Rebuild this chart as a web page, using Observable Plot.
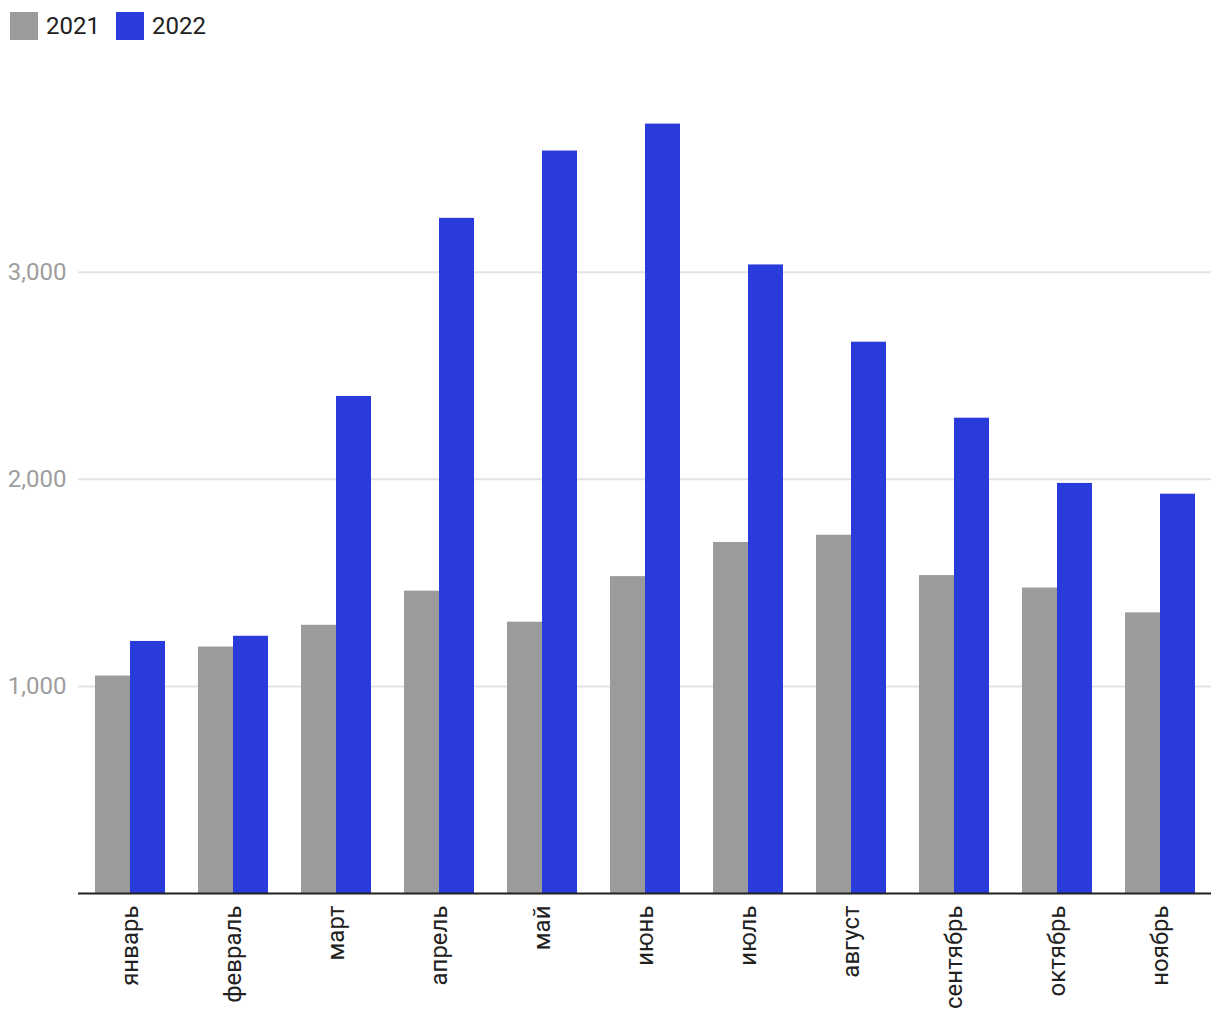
<!DOCTYPE html>
<html>
<head>
<meta charset="utf-8">
<script src="https://cdn.jsdelivr.net/npm/d3@7"></script>
<script src="https://cdn.jsdelivr.net/npm/@observablehq/plot@0.6"></script>
<style>
  body { margin: 0; background: #fff; font-family: Roboto, sans-serif; }
  #legend { height: 50px; display: flex; align-items: flex-start; padding-top: 12px; box-sizing: border-box; padding-left: 10px; }
  .item { display: flex; align-items: center; margin-right: 16px; font-size: 24px; color: #212121; height: 28px; }
  .sw { width: 28px; height: 28px; margin-right: 8px; }
</style>
</head>
<body>
<div id="legend"></div>
<div id="chart"></div>
<script>
const months = ["январь", "февраль", "март", "апрель", "май", "июнь", "июль", "август", "сентябрь", "октябрь", "ноябрь"];
const years = ["2021", "2022"];
const values2021 = [1050, 1190, 1295, 1460, 1310, 1530, 1695, 1730, 1535, 1475, 1355];
const values2022 = [1217, 1242, 2400, 3260, 3585, 3715, 3035, 2662, 2295, 1980, 1928];
const colors = ["#9b9b9b", "#2a3bdb"];
const yTicks = [1000, 2000, 3000];

const data = [];
months.forEach((m, i) => {
  data.push({month: m, year: years[0], value: values2021[i]});
  data.push({month: m, year: years[1], value: values2022[i]});
});

const legend = document.getElementById("legend");
years.forEach((y, i) => {
  const it = document.createElement("div");
  it.className = "item";
  const sw = document.createElement("div");
  sw.className = "sw";
  sw.style.background = colors[i];
  it.appendChild(sw);
  it.appendChild(document.createTextNode(y));
  legend.appendChild(it);
});

const chart = Plot.plot({
  width: 1220,
  height: 970,
  marginLeft: 76,
  marginRight: 7,
  marginTop: 56,
  marginBottom: 127,
  style: {fontFamily: "Roboto, sans-serif", fontSize: "24px", background: "#fff"},
  fx: {domain: months, paddingInner: 0, paddingOuter: 0, label: null, axis: null},
  x: {domain: years, paddingInner: 0, paddingOuter: 0.447, axis: null},
  y: {domain: [0, 3800], axis: null},
  color: {domain: years, range: colors},
  marks: [
    Plot.ruleY(yTicks, {stroke: "#e3e3e3", strokeWidth: 2}),
    Plot.axisY(yTicks, {tickSize: 0, tickPadding: 12, tickFormat: d3.format(","), fill: "#9e9e9e", fontSize: 24, label: null}),
    Plot.barY(data, {fx: "month", x: "year", y: "value", fill: "year", inset: 0}),
    Plot.axisFx({anchor: "bottom", tickRotate: -90, tickSize: 0, tickPadding: 12, fontSize: 24, fill: "#212121", label: null}),
    Plot.ruleY([0], {stroke: "#212121", strokeWidth: 2})
  ]
});
document.getElementById("chart").appendChild(chart);
</script>
</body>
</html>
